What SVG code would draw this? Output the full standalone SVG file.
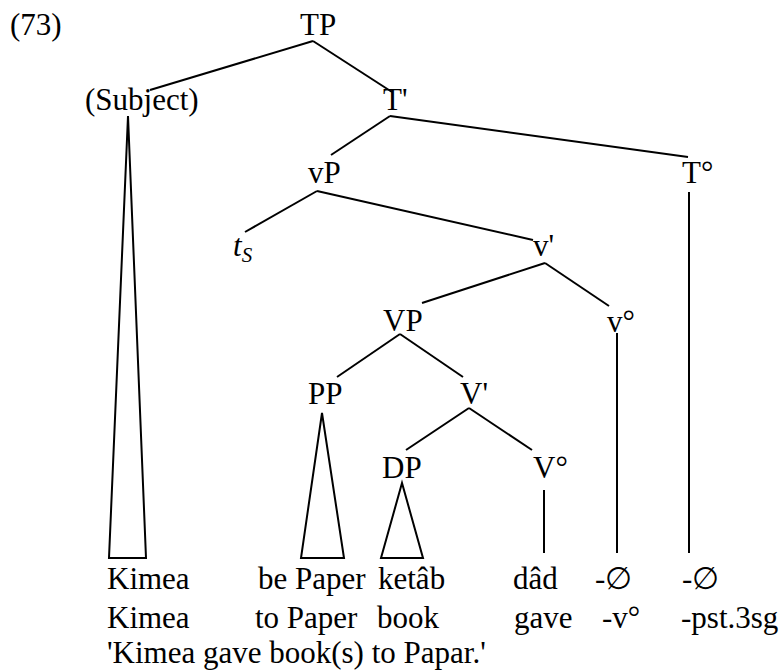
<svg xmlns="http://www.w3.org/2000/svg" width="783" height="672" viewBox="0 0 783 672">
<style>
.e{stroke:#000;stroke-width:2;fill:none;stroke-linecap:butt}
.tri{stroke:#000;stroke-width:2;fill:none;stroke-linejoin:miter}
</style>
<rect width="783" height="672" fill="#fff"/>
<g font-family="'Liberation Serif', 'Times New Roman', Times, 'DejaVu Serif', serif" font-size="31" fill="#000">
<text x="10" y="35">(73)</text>
<g id="TP"><text x="300" y="35">TP</text></g>
<g id="Subject"><text x="85" y="110">(Subject)</text></g>
<g id="Tbar"><text x="383" y="110">T'</text></g>
<g id="vP"><text x="308" y="183">vP</text></g>
<g id="T0"><text x="682" y="183">T°</text></g>
<g id="ts"><text x="233" y="256" font-style="italic">t<tspan font-size="21" dy="6">S</tspan></text></g>
<g id="vbar"><text x="533" y="256">v'</text></g>
<g id="VP"><text x="383" y="331">VP</text></g>
<g id="v0"><text x="607" y="332">v°</text></g>
<g id="PP"><text x="308" y="404">PP</text></g>
<g id="Vbar"><text x="460" y="404">V'</text></g>
<g id="DP"><text x="382" y="478">DP</text></g>
<g id="V0"><text x="533" y="478">V°</text></g>
<g id="gloss">
<text x="107" y="589">Kimea</text>
<text x="258" y="589">be Paper</text>
<text x="378" y="589">ketâb</text>
<text x="513" y="589">dâd</text>
<text x="595" y="589">-∅</text>
<text x="682" y="589">-∅</text>
<text x="107" y="628">Kimea</text>
<text x="255" y="628">to Paper</text>
<text x="377" y="628">book</text>
<text x="514" y="628">gave</text>
<text x="602" y="628">-v°</text>
<text x="681" y="628">-pst.3sg</text>
<text x="107" y="663">'Kimea gave book(s) to Papar.'</text>
</g>
</g>
<g id="connectors">
<line class="e" x1="313" y1="41" x2="150" y2="90"/>
<line class="e" x1="313" y1="41" x2="392" y2="92"/>
<line class="e" x1="390" y1="116" x2="331" y2="155"/>
<line class="e" x1="390" y1="116" x2="688" y2="157"/>
<line class="e" x1="317" y1="191" x2="245" y2="232"/>
<line class="e" x1="317" y1="191" x2="533" y2="240"/>
<line class="e" x1="545" y1="263" x2="422" y2="303"/>
<line class="e" x1="545" y1="263" x2="609" y2="306"/>
<line class="e" x1="400" y1="334" x2="337" y2="377"/>
<line class="e" x1="400" y1="334" x2="463" y2="377"/>
<line class="e" x1="469" y1="408" x2="406" y2="450"/>
<line class="e" x1="469" y1="408" x2="532" y2="450"/>
<line class="e" x1="544" y1="490" x2="544" y2="553"/>
<line class="e" x1="617" y1="333" x2="617" y2="553"/>
<line class="e" x1="689" y1="192" x2="689" y2="553"/>
<polygon class="tri" points="128,116 109,558 146,558"/>
<polygon class="tri" points="322,413 301,558 344,558"/>
<polygon class="tri" points="402,483 381,558 423,558"/>
</g>
</svg>
